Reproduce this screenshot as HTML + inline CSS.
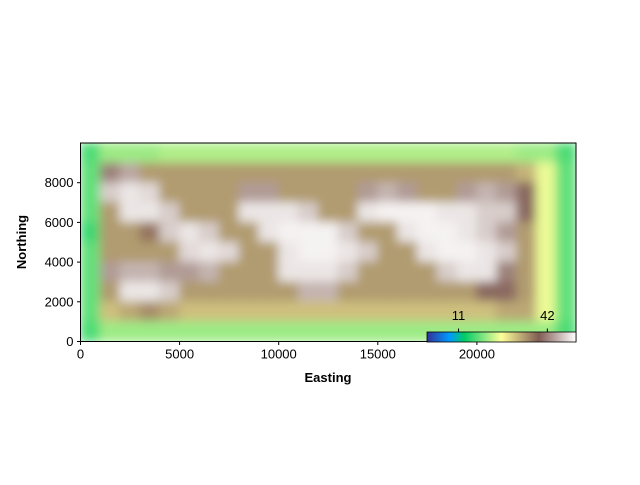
<!DOCTYPE html>
<html><head><meta charset="utf-8"><style>
body{margin:0;background:#fff;}
svg text{font-family:"Liberation Sans","DejaVu Sans",sans-serif;}
</style></head><body>
<svg id="c" width="640" height="480" xmlns="http://www.w3.org/2000/svg">
<defs>
<filter id="bl" x="0" y="0" width="100%" height="100%"><feGaussianBlur stdDeviation="5" edgeMode="duplicate"/></filter>
<clipPath id="pc"><rect x="80.5" y="143" width="495.5" height="198.5"/></clipPath>
<linearGradient id="tg" x1="0" x2="1" y1="0" y2="0">
<stop offset="0" stop-color="rgb(51,51,153)"/><stop offset="0.15" stop-color="rgb(0,153,255)"/>
<stop offset="0.25" stop-color="rgb(0,204,102)"/><stop offset="0.5" stop-color="rgb(255,255,153)"/>
<stop offset="0.75" stop-color="rgb(128,92,84)"/><stop offset="1" stop-color="rgb(255,255,255)"/>
</linearGradient>
</defs>
<g id="plot" clip-path="url(#pc)"><g id="cells" filter="url(#bl)"></g></g>
<rect x="80.5" y="143" width="495.5" height="198.5" fill="none" stroke="#000" stroke-width="1"/>
<g id="axes"></g>
<g>
<rect x="427" y="332" width="149" height="10" fill="url(#tg)" stroke="#000" stroke-width="0.8"/>
<g id="cbticks"></g>
</g>
<text x="328" y="382" text-anchor="middle" font-size="13" font-weight="bold">Easting</text>
<text x="26" y="242" text-anchor="middle" font-size="13" font-weight="bold" transform="rotate(-90 26 242)">Northing</text>
</svg>
<script>
const xTicks=[0,5000,10000,15000,20000];
const yTicks=[0,2000,4000,6000,8000];
const cbTicks=[11,42];
const elevRows=[
[17,21,21,21,22,22,22,22,22,22,22,22,22,22,22,22,22,22,22,22,22,22,21,21,17],
[18,42,45,34,34,34,34,34,34,34,34,34,34,34,34,34,34,34,34,34,34,34,32,25,18],
[18,48,50,49,34,34,34,34,44,44,34,34,34,34,44,46,44,34,34,44,46,44,40,25,18],
[18,34,50,50,48,34,34,34,50,50,50,48,34,34,50,51,51,51,50,50,48,48,40,25,18],
[16,34,34,37,48,50,48,34,34,50,51,51,51,48,34,34,50,51,51,50,48,44,34,25,18],
[18,34,34,34,34,49,50,49,34,34,50,51,51,50,48,34,34,50,51,51,50,48,34,25,18],
[18,44,46,46,44,44,46,34,34,34,50,50,50,48,34,34,34,34,48,50,50,42,34,25,18],
[18,34,50,50,48,34,34,34,34,34,34,46,46,34,34,34,34,34,34,34,40,40,34,25,18],
[18,31,33,35,33,31,31,31,31,31,31,31,31,31,31,31,31,31,31,31,31,33,33,25,18],
[17,21,21,21,21,21,21,21,21,21,21,21,21,21,21,21,21,21,21,21,21,21,21,21,17]];
const vmin=0,vmax=52;
const X0=80.5,X1=576,XMAX=25000,Y0=341.5,Y1=143,YMAX=10000;
const sx=v=>X0+(X1-X0)*v/XMAX, sy=v=>Y0-(Y0-Y1)*v/YMAX;
const stops=[[0,[51,51,153]],[0.15,[0,153,255]],[0.25,[0,204,102]],[0.5,[255,255,153]],[0.75,[128,92,84]],[1,[255,255,255]]];
function cmap(v){let t=Math.max(0,Math.min(1,(v-vmin)/(vmax-vmin)));for(let i=1;i<stops.length;i++){if(t<=stops[i][0]){const a=stops[i-1],b=stops[i],f=(t-a[0])/(b[0]-a[0]);return 'rgb('+a[1].map((c,k)=>Math.round(c+(b[1][k]-c)*f)).join(',')+')';}}return 'rgb(255,255,255)';}
const NS='http://www.w3.org/2000/svg';
function mk(t,a,p){const e=document.createElementNS(NS,t);for(const k in a)e.setAttribute(k,a[k]);p.appendChild(e);return e;}
const cells=document.getElementById('cells');
const nr=elevRows.length,nc=elevRows[0].length,cw=XMAX/nc,ch=YMAX/nr;
elevRows.forEach((row,r)=>row.forEach((v,c)=>{
 const x=sx(c*cw),y=sy(YMAX-r*ch);
 const e=mk('rect',{x:x-0.5,y:y-0.5,width:sx((c+1)*cw)-x+1,height:sy(YMAX-(r+1)*ch)-y+1,fill:cmap(v)},cells);
 
 
}));
const ax=document.getElementById('axes');
xTicks.forEach(v=>{const x=sx(v);
 const l=mk('line',{x1:x,x2:x,y1:Y0,y2:Y0+3.5,stroke:'#000'},ax);
 
 
 const t=mk('text',{x:x,y:Y0+17,'text-anchor':'middle','font-size':'13'},ax);t.textContent=v;
 
 });
yTicks.forEach(v=>{const y=sy(v);
 const l=mk('line',{x1:X0-3.5,x2:X0,y1:y,y2:y,stroke:'#000'},ax);
 
 
 const t=mk('text',{x:X0-7,y:y+4.5,'text-anchor':'end','font-size':'13'},ax);t.textContent=v;
 
 });
const cb=document.getElementById('cbticks');
cbTicks.forEach(v=>{const x=427+149*(v-vmin)/(vmax-vmin);
 const l=mk('line',{x1:x,x2:x,y1:328.5,y2:332,stroke:'#000'},cb);
 
 
 const t=mk('text',{x:x,y:320,'text-anchor':'middle','font-size':'13'},cb);t.textContent=v;
 
 });
</script>
</body></html>
